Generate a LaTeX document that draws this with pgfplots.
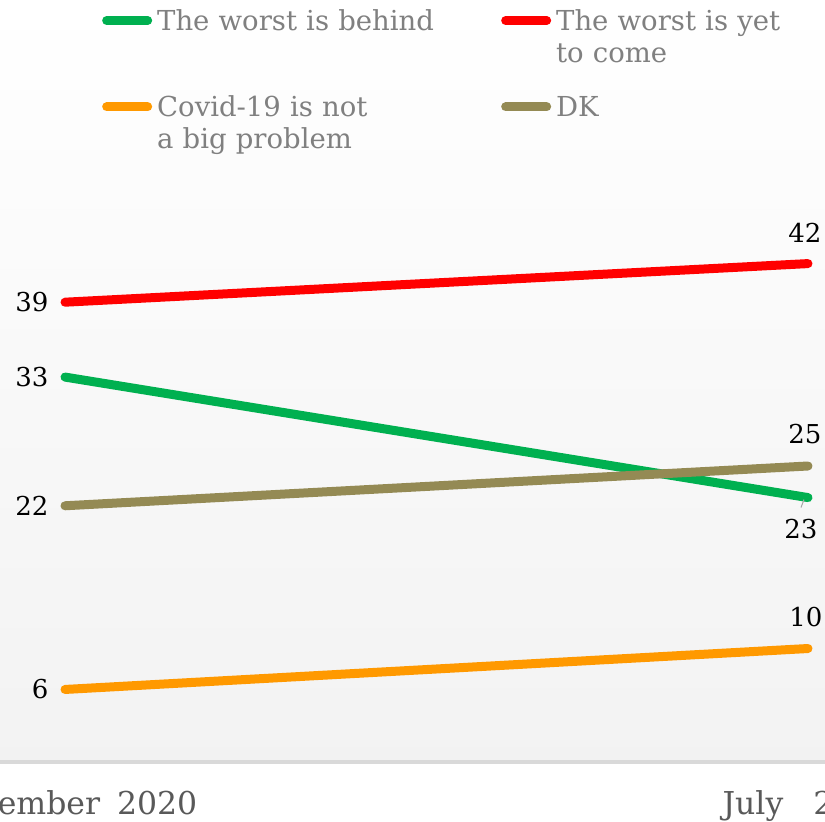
\documentclass[border=0pt]{standalone}
\usepackage{pgfplots}
\pgfplotsset{compat=1.18}
\usepackage{fontspec}
\setmainfont{DejaVu Serif}
\definecolor{cgreen}{HTML}{00B050}
\definecolor{cred}{HTML}{FF0000}
\definecolor{corange}{HTML}{FF9900}
\definecolor{cdk}{HTML}{948A54}
\definecolor{legtext}{HTML}{808080}
\definecolor{ticktext}{HTML}{595959}
\definecolor{axisgray}{HTML}{D9D9D9}
\tikzset{lbl/.style={text=black, inner sep=0pt, font=\fontsize{26bp}{30bp}\selectfont}}
\begin{document}
\begin{tikzpicture}
\useasboundingbox (0,0) rectangle (825bp,822bp);
\clip (0,0) rectangle (825bp,822bp);
\begin{axis}[
  at={(0bp,60bp)}, anchor=south west,
  scale only axis, width=825bp, height=762bp,
  xmin=-0.0875, xmax=1.0229, ymin=0, ymax=65.13,
  axis x line*=bottom, axis y line=none,
  x axis line style={-, draw=axisgray, line width=3bp},
  xtick={0,1}, xticklabels={September\hspace{7bp} 2020\hspace*{8bp}, July\hspace{20bp} 2021},
  major tick length=0pt, xtick style={draw=none},
  xticklabel style={font=\fontsize{31.5bp}{36bp}\selectfont, text=ticktext, anchor=base, inner sep=0pt, yshift=-52bp},
  ytick=\empty,
  axis background/.style={top color=white, bottom color=black!5},
  clip=false,
  legend columns=2,
  legend cell align=left,
  legend image code/.code={\draw[#1, line cap=round] (0bp,0bp) -- (41bp,0bp);},
  legend style={at={(0.1236,0.988)}, anchor=north west, draw=none, fill=none, inner sep=0pt,
    column sep=5bp, row sep=64bp, font=\fontsize{27.5bp}{32bp}\selectfont, text=legtext,
    nodes={inner sep=0pt, text width=339bp, align=left}},
  every axis plot/.append style={line width=9bp, line cap=round},
]
\addplot[cgreen] coordinates {(0,32.9) (1,22.6)}
  node[lbl, pos=0, anchor=east, xshift=-12bp] {33}
  node[lbl, pos=1, anchor=north, xshift=-7bp, yshift=-17bp] {23}
  coordinate[pos=1] (gend);
\addlegendentry{The worst is behind}
\addplot[cred] coordinates {(0,39.3) (1,42.6)}
  node[lbl, pos=0, anchor=east, xshift=-12bp] {39}
  node[lbl, pos=1, anchor=base, xshift=-3bp, yshift=21bp] {42};
\addlegendentry{The worst is yet\\to come}
\addplot[corange] coordinates {(0,6.2) (1,9.7)}
  node[lbl, pos=0, anchor=east, xshift=-12bp] {6}
  node[lbl, pos=1, anchor=base, xshift=-2bp, yshift=22bp] {10};
\addlegendentry{Covid-19 is not\\a big problem}
\addplot[cdk] coordinates {(0,21.9) (1,25.3)}
  node[lbl, pos=0, anchor=east, xshift=-12bp] {22}
  node[lbl, pos=1, anchor=base, xshift=-3bp, yshift=22bp] {25};
\addlegendentry{DK}
\end{axis}
\draw[gray!70, line width=1bp] ([xshift=-4bp,yshift=-2bp]gend) -- ([xshift=-7bp,yshift=-10bp]gend);
\end{tikzpicture}
\end{document}
